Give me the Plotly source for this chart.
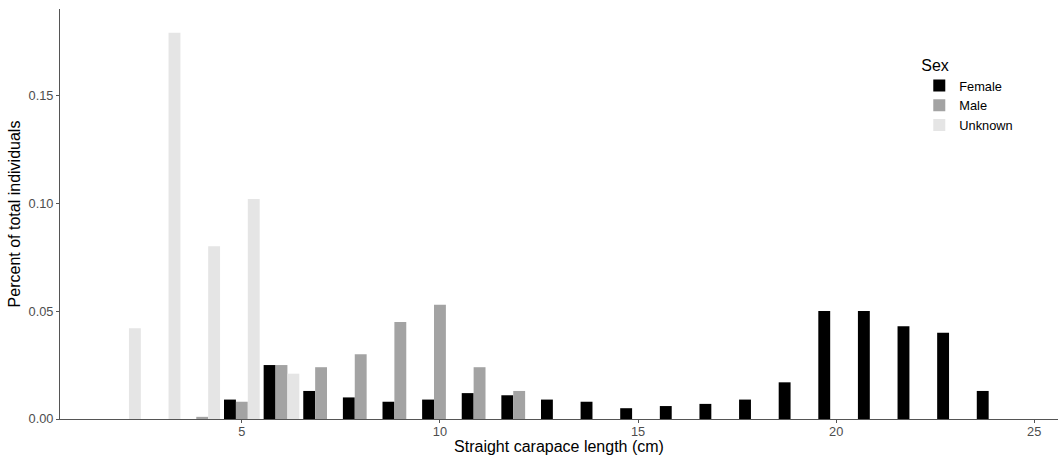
import plotly.graph_objects as go

# Size bins (cm)
bins = list(range(2, 25))
# Proportion of total individuals per bin, by sex (None = no bar)
female = [None, None, None, 0.009, 0.025, 0.013, 0.010, 0.008, 0.009, 0.012, 0.011,
          0.009, 0.008, 0.005, 0.006, 0.007, 0.009, 0.017, 0.050, 0.050, 0.043, 0.040, 0.013]
male = [None, None, 0.001, 0.008, 0.025, 0.024, 0.030, 0.045, 0.053, 0.024, 0.013,
        None, None, None, None, None, None, None, None, None, None, None, None]
unknown = [0.042, 0.179, 0.080, 0.102, 0.021, None, None, None, None, None, None,
           None, None, None, None, None, None, None, None, None, None, None, None]

series = [("Female", female, "#000000"), ("Male", male, "#A3A3A3"), ("Unknown", unknown, "#E5E5E5")]

x_ticks = [5, 10, 15, 20, 25]
y_ticks = [0.00, 0.05, 0.10, 0.15]

FONT = "Liberation Sans, Arial, sans-serif"

fig = go.Figure()
for name, vals, col in series:
    fig.add_trace(go.Bar(x=bins, y=vals, name=name, marker=dict(color=col, line=dict(width=0))))

fig.update_layout(
    barmode="group",
    bargap=0.1,
    bargroupgap=0,
    width=1062, height=455,
    margin=dict(l=60, r=4, t=9, b=36),
    plot_bgcolor="white", paper_bgcolor="white",
    font=dict(family=FONT, size=12.8, color="#4D4D4D"),
    legend=dict(
        title=dict(text="Sex", font=dict(size=16, color="#000000")),
        font=dict(size=12.8, color="#000000"),
        x=0.861, y=0.9, xanchor="left", yanchor="top",
        bgcolor="rgba(0,0,0,0)", itemsizing="constant",
    ),
)
fig.update_xaxes(
    range=[0.41, 25.6], tickvals=x_ticks, ticks="outside", ticklen=3, tickcolor="#555555",
    showline=True, linecolor="#555555", linewidth=1, showgrid=False, zeroline=False,
    tickfont=dict(size=12.8, color="#4D4D4D"), ticklabelstandoff=-2,
    title=dict(text="Straight carapace length (cm)", font=dict(size=16, color="#000000")),
    automargin=False,
)
fig.update_yaxes(
    range=[0, 0.19], tickvals=y_ticks, tickformat=".2f", ticks="outside", ticklen=3, tickcolor="#555555",
    showline=True, linecolor="#555555", linewidth=1, showgrid=False, zeroline=False,
    tickfont=dict(size=12.8, color="#4D4D4D"),
    title=dict(text="Percent of total individuals", font=dict(size=16, color="#000000"), standoff=3),
    automargin=True,
)

fig.write_html(
    "out.html",
    config={"displayModeBar": False},
    post_script="document.body.style.margin='0px';document.body.style.overflow='hidden';",
)
